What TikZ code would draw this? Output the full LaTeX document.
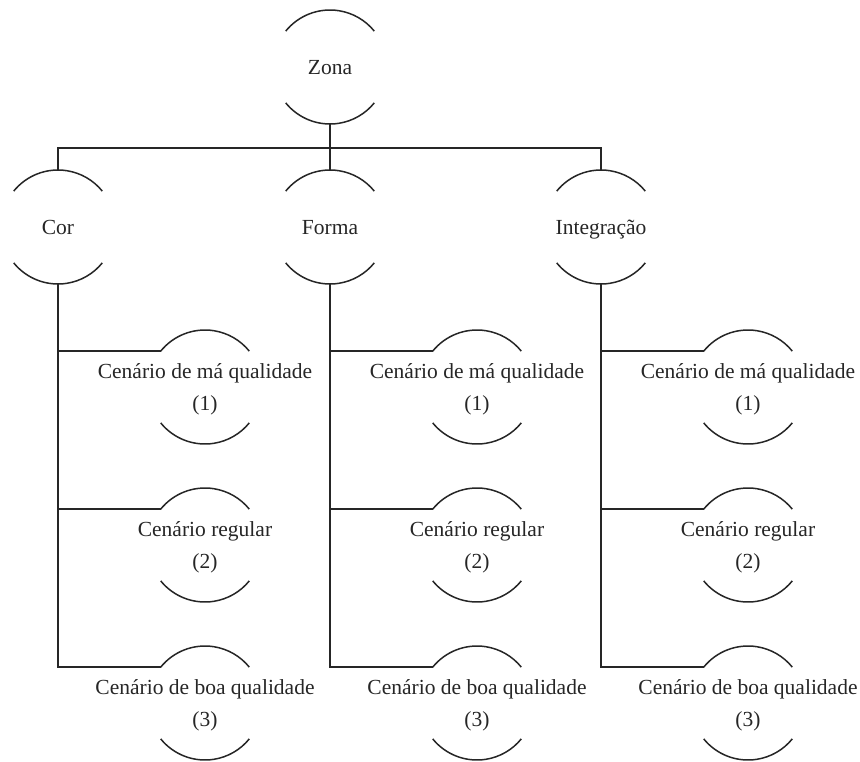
\documentclass[tikz,border=0pt]{standalone}
\usepackage{fontspec}
\setmainfont{Liberation Serif}
\tikzset{
  arcline/.style={line width=1.5pt, draw=black!85},
  conn/.style={line width=1.5pt, draw=black!85},
  ring/.style={circle, minimum size=114pt, inner sep=0pt, outer sep=0pt},
  lbl/.style={align=center, font=\fontsize{21.5}{32}\selectfont, text=black!85, inner sep=0pt},
  oneline/.style={text height=15pt, text depth=5pt},
}
\newcommand\capnode[4][]{%
  \node[ring] (#2) at (#3) {};
  \node[lbl,#1] (#2-t) at ([yshift=-2pt]#2.center) {#4};
  \draw[arcline] (#2.141) arc[start angle=141, end angle=39, radius=57pt];
  \draw[arcline] (#2.-141) arc[start angle=-141, end angle=-39, radius=57pt];
}
\begin{document}
\begin{tikzpicture}[x=1pt,y=1pt]
\useasboundingbox (0,0) rectangle (860,-761);
\capnode[oneline]{zona}{330,-67}{Zona}
\capnode[oneline]{cor}{58,-227}{Cor}
\capnode[oneline]{forma}{330,-227}{Forma}
\capnode[oneline]{integ}{601,-227}{Integração}
\coordinate (bus) at (0,-148);
\draw[conn] (cor.north) -- (cor.north |- bus) -- (integ.north |- bus) -- (integ.north);
\draw[conn] (zona.south) -- (forma.north);
\foreach \p/\x in {cor/58,forma/330,integ/601}{
  \capnode{\p1}{\x+147,-387}{Cenário de má qualidade\\(1)}
  \capnode{\p2}{\x+147,-545}{Cenário regular\\(2)}
  \capnode{\p3}{\x+147,-703}{Cenário de boa qualidade\\(3)}
  \draw[conn] (\p.south) |- (\p3.141);
  \draw[conn] (\p.south |- \p1.141) -- (\p1.141);
  \draw[conn] (\p.south |- \p2.141) -- (\p2.141);
}
\end{tikzpicture}
\end{document}
